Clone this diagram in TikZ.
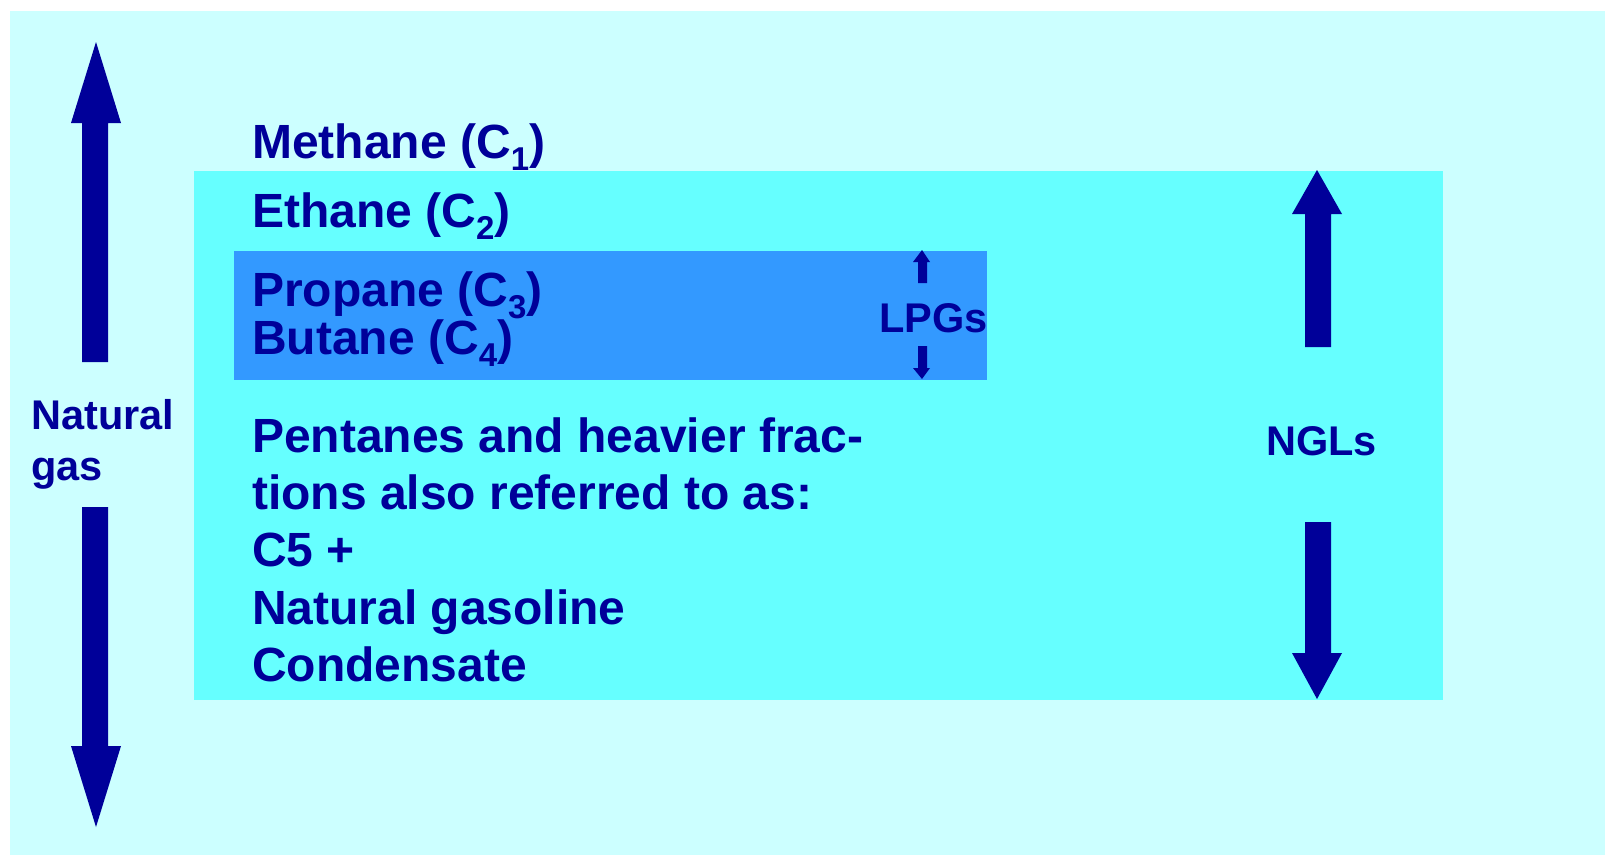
\documentclass[tikz,border=0pt]{standalone}
\usepackage{fontspec}
\setmainfont{Liberation Sans}
\definecolor{bgout}{HTML}{CCFFFF}
\definecolor{bgmid}{HTML}{66FFFF}
\definecolor{lpgblue}{HTML}{3399FF}
\definecolor{ink}{HTML}{000099}
\newcommand\sbsc[1]{\raisebox{-12pt}{\fontsize{33}{33}\selectfont #1}}
\begin{document}
\begin{tikzpicture}[x=1pt,y=-1pt,
  bigtxt/.style={anchor=base west,inner sep=0pt,text=ink,font=\fontsize{48}{56}\selectfont\bfseries},
  midtxt/.style={anchor=base west,inner sep=0pt,text=ink,font=\fontsize{41.5}{48}\selectfont\bfseries},
  blockarrow/.style={fill=ink,draw=none}]
\useasboundingbox (0,0) rectangle (1605,855);
\fill[white] (0,0) rectangle (1605,855);
\fill[bgout] (10,11) rectangle (1605,855);
\fill[bgmid] (194,171) rectangle (1443,700);
\fill[lpgblue] (234,251) rectangle (987,380);
% texts
\node[bigtxt] (methane) at (252,158) {Methane (C\sbsc{1})};
\node[bigtxt] (ethane) at (252,227) {Ethane (C\sbsc{2})};
\node[bigtxt] (propane) at (252,306) {Propane (C\sbsc{3})};
\node[bigtxt] (butane) at (252,354) {Butane (C\sbsc{4})};
\node[bigtxt] (pent1) at (252,452) {Pentanes and heavier frac-};
\node[bigtxt] (pent2) at (252,509) {tions also referred to as:};
\node[bigtxt] (c5) at (252,566) {C5 +};
\node[bigtxt] (natgasoline) at (252,624) {Natural gasoline};
\node[bigtxt] (condensate) at (252,681) {Condensate};
\node[midtxt] (natural) at (31,429) {Natural};
\node[midtxt] (gas) at (31,480) {gas};
\node[midtxt] (lpgs) at (879,332) {LPGs};
\node[midtxt] (ngls) at (1266,455) {NGLs};
% Natural gas arrows
\fill[blockarrow] (96,42) -- (121,123) -- (108,123) -- (108,362) -- (82,362) -- (82,123) -- (71,123) -- cycle;
\fill[blockarrow] (96,827) -- (121,746) -- (108,746) -- (108,507) -- (82,507) -- (82,746) -- (71,746) -- cycle;
% NGL arrows
\fill[blockarrow] (1317,170) -- (1342,214) -- (1331,214) -- (1331,347) -- (1305,347) -- (1305,214) -- (1292,214) -- cycle;
\fill[blockarrow] (1317,699) -- (1342,653) -- (1331,653) -- (1331,522) -- (1305,522) -- (1305,653) -- (1292,653) -- cycle;
% LPG arrows
\fill[blockarrow] (922,250) -- (930,262) -- (927,262) -- (927,283) -- (918,283) -- (918,262) -- (913,262) -- cycle;
\fill[blockarrow] (922,379) -- (930,368) -- (927,368) -- (927,346) -- (918,346) -- (918,368) -- (913,368) -- cycle;
\end{tikzpicture}
\end{document}
